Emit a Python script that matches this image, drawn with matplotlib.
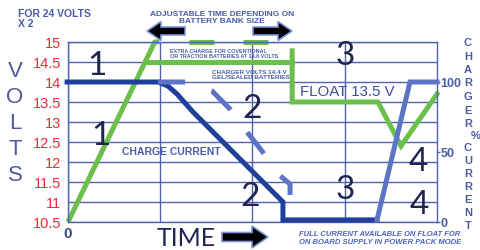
import matplotlib
matplotlib.use('Agg')
import matplotlib.pyplot as plt
from matplotlib.patches import FancyArrow

W, H = 481, 251

# voltage curve (green), x in time units 0..4, y in volts
volt_rise_x = [0.0, 0.94, 0.99]
volt_rise_y = [10.5, 15.0, 15.0]
volt_absorb_x = [0.83, 2.43]
volt_absorb_y = [14.5, 14.5]
volt_float_x = [2.43, 2.43, 3.36, 3.61, 4.0]
volt_float_y = [14.78, 13.5, 13.5, 12.4, 13.7]
volt_extra_x = [1.31, 2.17]
volt_extra_y = [15.0, 15.0]

# charge current (right axis, percent)
cur_x = [-0.01, 0.976, 1.084, 1.182, 1.355, 2.33, 2.33, 3.35]
cur_y = [100, 100, 97.1, 91.4, 78.6, 14.3, 1.5, 1.5]
cur_return_x = [3.35, 3.707, 4.0]
cur_return_y = [1.5, 100, 100]
cur_gel_x = [0.976, 1.290, 1.561, 1.756, 1.940, 2.103, 2.276, 2.407, 2.407]
cur_gel_y = [100, 100, 93.6, 80.7, 64.3, 50.7, 34.3, 27.1, 19.3]

volt_ticks = [10.5, 11, 11.5, 12, 12.5, 13, 13.5, 14, 14.5, 15]
volt_labels = ['10.5', '11', '11.5', '12', '12.5', '13', '13.5', '14', '14.5', '15']
pct_ticks = [0, 50, 100]

GREEN = '#6cbf4b'
DARK = '#1e3f9c'
LIGHT = '#5b74c6'
GRID = '#4d62b2'
SLATE = '#4a5ca8'
NAVY = '#1f2550'
RED = '#ee2a35'
THIN = ['Lato', 'DejaVu Sans']

plt.rcParams['font.family'] = ['Liberation Sans', 'DejaVu Sans']

fig = plt.figure(figsize=(W / 100, H / 100), dpi=100)
ax = fig.add_axes([68 / W, 28 / H, (437 - 68) / W, 180 / H])
ax.set_xlim(0, 4)
ax.set_ylim(10.5, 15)
ax2 = ax.twinx()
ax2.set_ylim(0, 100 * 4.5 / 3.5)

for s in ax.spines.values():
    s.set_color(GRID)
    s.set_linewidth(1.0)
for s in ax2.spines.values():
    s.set_visible(False)

ax.set_yticks(volt_ticks)
ax.set_yticklabels(volt_labels, color=RED, fontsize=10.5)
ax.tick_params(axis='y', length=0, pad=5)
ax.set_xticks([0])
ax.set_xticklabels(['0'], color='#3a4a85', fontsize=11, fontweight='bold')
ax.tick_params(axis='x', length=0, pad=3)
ax.grid(True, color=GRID, linewidth=1.0)
ax.set_xticks([1, 2, 3], minor=True)
ax.grid(True, which='minor', axis='x', color=GRID, linewidth=1.0)
ax.tick_params(which='minor', length=0)

ax2.set_yticks(pct_ticks)
ax2.set_yticklabels([str(t) for t in pct_ticks], color=SLATE, fontsize=9, fontweight='bold')
ax2.tick_params(axis='y', length=2, width=1, color=GRID, pad=0.5)

lw = 3.6
ax.plot(volt_rise_x, volt_rise_y, color=GREEN, lw=lw, clip_on=False, solid_capstyle='butt')
ax.plot(volt_absorb_x, volt_absorb_y, color=GREEN, lw=lw, clip_on=False)
ax.plot(volt_float_x, volt_float_y, color=GREEN, lw=lw, clip_on=False, solid_joinstyle='miter')
ax.plot(volt_extra_x, volt_extra_y, color=GREEN, lw=lw, clip_on=False, dashes=(5.0, 5.8))

ax2.plot(cur_x, cur_y, color=DARK, lw=lw, clip_on=False, solid_joinstyle='miter')
ax2.plot(cur_return_x, cur_return_y, color=LIGHT, lw=lw, clip_on=False, solid_joinstyle='miter')
ax2.plot(cur_gel_x, cur_gel_y, color=LIGHT, lw=lw, clip_on=False, dashes=(5.4, 5.6))


def ftext(x, y, s, **kw):
    # place text using reference pixel coordinates (top-left origin)
    kw.setdefault('ha', 'center')
    kw.setdefault('va', 'center')
    fig.text(x / W, 1 - y / H, s, **kw)


def farrow(x_tail, x_tip, y, head_len, head_w, body_w):
    dx = x_tip - x_tail
    a = FancyArrow(x_tail / W, 1 - y / H, dx / W, 0, width=body_w / H,
                   head_width=head_w / H, head_length=head_len / W,
                   length_includes_head=True, transform=fig.transFigure,
                   facecolor='black', edgecolor='#7d93d8', linewidth=1.2)
    fig.add_artist(a)


# big phase numbers
for (x, y, s) in [(97, 66, '1'), (101, 136, '1'), (252, 109, '2'), (250, 197, '2'),
                  (345, 56, '3'), (345, 190, '3'), (418, 162, '4'), (419, 205, '4')]:
    ftext(x, y, s, fontsize=24, color=NAVY, fontweight='normal', family=THIN)

ftext(18, 19, 'FOR 24 VOLTS\nX 2', ha='left', fontsize=7.5, color=SLATE,
      fontweight='bold', linespacing=1.05)

for i, ch in enumerate('VOLTS'):
    ftext(15, 72 + i * 25.8, ch, fontsize=16, color='#4a5a9c')

for i, ch in enumerate('CHARGER'):
    ftext(468, 43 + i * 13.5, ch, fontsize=8, color=SLATE, fontweight='bold')
ftext(476, 136, '%', fontsize=8, color=SLATE, fontweight='bold')
for i, ch in enumerate('CURRENT'):
    ftext(468, 148 + i * 13, ch, fontsize=8, color=SLATE, fontweight='bold')

ftext(222, 18, 'ADJUSTABLE TIME DEPENDING ON\nBATTERY BANK SIZE', fontsize=6,
      color=SLATE, fontweight='bold', linespacing=1.15)
farrow(185, 147, 32, 14, 19, 8)
farrow(253, 292, 32, 14, 19, 8)

ftext(170, 54, 'EXTRA CHARGE FOR COVENTIONAL\nOR TRACTION BATTERIES AT 14.8 VOLTS',
      ha='left', fontsize=3.9, color=SLATE, fontweight='bold', linespacing=1.1)
ftext(212, 75, 'CHARGER VOLTS 14.4 V\nGEL/SEALED BATTERIES', ha='left',
      fontsize=4.6, color=SLATE, fontweight='bold', linespacing=1.1)
ftext(300, 92, 'FLOAT 13.5 V', ha='left', fontsize=10.8, color='#3c4d9c')
ftext(122, 152, 'CHARGE CURRENT', ha='left', fontsize=7.5, color=SLATE, fontweight='bold')

ftext(157, 239, 'TIME', ha='left', fontsize=18, color=NAVY, fontweight='normal', family=THIN)
farrow(222, 268, 238, 16, 22, 9)

ftext(299, 238.5, 'FULL CURRENT AVAILABLE ON FLOAT FOR\nON BOARD SUPPLY IN POWER PACK MODE',
      ha='left', fontsize=5.5, color='#4b63c2', fontweight='bold', fontstyle='italic',
      linespacing=1.15)

fig.savefig('out.png', dpi=100)
